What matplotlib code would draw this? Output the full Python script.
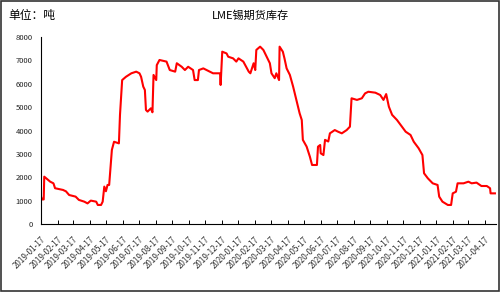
import matplotlib
matplotlib.use('Agg')
import matplotlib.pyplot as plt
import pandas as pd

plt.rcParams['font.family'] = ['Noto Sans CJK SC', 'DejaVu Sans']

# LME锡期货库存 (吨), 读图估算
dates = [
    '2019-01-17', '2019-01-19', '2019-01-22', '2019-01-23', '2019-02-03', '2019-02-09', '2019-02-12',
    '2019-02-27', '2019-03-01', '2019-03-04', '2019-03-10', '2019-03-22', '2019-03-28', '2019-04-07',
    '2019-04-13', '2019-04-19', '2019-04-29', '2019-05-02', '2019-05-08', '2019-05-11', '2019-05-14',
    '2019-05-17', '2019-05-20', '2019-05-23', '2019-05-26', '2019-05-28', '2019-06-01', '2019-06-10',
    '2019-06-12', '2019-06-16', '2019-06-23', '2019-07-03', '2019-07-12', '2019-07-18', '2019-07-21',
    '2019-07-25', '2019-07-28', '2019-07-30', '2019-08-02', '2019-08-08', '2019-08-11', '2019-08-13',
    '2019-08-18', '2019-08-19', '2019-08-24', '2019-09-06', '2019-09-12', '2019-09-22', '2019-09-25',
    '2019-10-04', '2019-10-10', '2019-10-16', '2019-10-25', '2019-10-28', '2019-11-03', '2019-11-05',
    '2019-11-13', '2019-11-19', '2019-11-25', '2019-12-01', '2019-12-14', '2019-12-15', '2019-12-18',
    '2019-12-26', '2019-12-29', '2020-01-07', '2020-01-13', '2020-01-17', '2020-01-26', '2020-02-05',
    '2020-02-08', '2020-02-14', '2020-02-17', '2020-02-19', '2020-02-26', '2020-03-03', '2020-03-09',
    '2020-03-15', '2020-03-18', '2020-03-24', '2020-03-27', '2020-04-01', '2020-04-02', '2020-04-08',
    '2020-04-11', '2020-04-15', '2020-04-21', '2020-04-27', '2020-05-03', '2020-05-09', '2020-05-13',
    '2020-05-15', '2020-05-22', '2020-05-28', '2020-06-01', '2020-06-10', '2020-06-12', '2020-06-16',
    '2020-06-17', '2020-06-22', '2020-06-25', '2020-07-01', '2020-07-04', '2020-07-13', '2020-07-19',
    '2020-07-26', '2020-08-04', '2020-08-10', '2020-08-13', '2020-08-23', '2020-09-01', '2020-09-07',
    '2020-09-13', '2020-09-26', '2020-10-05', '2020-10-11', '2020-10-16', '2020-10-21', '2020-10-27',
    '2020-11-05', '2020-11-14', '2020-11-21', '2020-11-30', '2020-12-06', '2020-12-15', '2020-12-22',
    '2020-12-25', '2021-01-01', '2021-01-10', '2021-01-19', '2021-01-22', '2021-01-28', '2021-02-07',
    '2021-02-13', '2021-02-16', '2021-02-22', '2021-02-25', '2021-03-08', '2021-03-17', '2021-03-23',
    '2021-04-01', '2021-04-10', '2021-04-20', '2021-04-26', '2021-04-27', '2021-05-05',
]
stocks = [
    1170, 1050, 1050, 2025, 1810, 1740, 1530,
    1455, 1430, 1400, 1240, 1170, 1030, 955,
    880, 1000, 955, 813, 813, 955, 1600,
    1400, 1670, 1670, 2600, 3170, 3520, 3450,
    4670, 6160, 6300, 6450, 6520, 6450, 6300,
    5880, 5735, 4880, 4810, 4950, 4780, 6380,
    6160, 6800, 7020, 6950, 6590, 6520, 6880,
    6730, 6590, 6730, 6590, 6160, 6160, 6590,
    6660, 6590, 6520, 6450, 6450, 5950, 7375,
    7300, 7160, 7090, 6950, 7090, 6950, 6520,
    6450, 6880, 6590, 7450, 7590, 7450, 7160,
    6880, 6450, 6240, 6450, 6160, 7590, 7375,
    7090, 6660, 6380, 5880, 5310, 4740, 4450,
    3600, 3310, 2880, 2525, 2525, 3310, 3380,
    3025, 2950, 3600, 3530, 3880, 4020, 3950,
    3880, 4020, 4165, 5380, 5310, 5380, 5590,
    5660, 5620, 5520, 5310, 5560, 5020, 4670,
    4450, 4165, 3950, 3810, 3520, 3240, 2950,
    2170, 1955, 1740, 1670, 1170, 955, 813,
    813, 1310, 1380, 1740, 1740, 1810, 1740,
    1770, 1625, 1625, 1530, 1310, 1310,
]
tick_dates = pd.date_range('2019-01-01', '2021-04-01', freq='MS') + pd.Timedelta(days=16)

df = pd.DataFrame({'date': pd.to_datetime(dates), 'stock': stocks})

fig = plt.figure(figsize=(5, 2.92), dpi=100)
ax = fig.add_axes([0.082, 0.233, 0.910, 0.640])

ax.plot(df['date'], df['stock'], color='#FF0000', linewidth=1.5)

ax.set_ylim(0, 8000)
ax.set_yticks(range(0, 8001, 1000))
ax.set_xlim(pd.Timestamp('2019-01-17'), pd.Timestamp('2021-05-07'))
ax.set_xticks(tick_dates)
ax.set_xticklabels([d.strftime('%Y-%m-%d') for d in tick_dates], rotation=45,
                   ha='right', rotation_mode='anchor', fontsize=5.8, color='#333333')
ax.tick_params(axis='x', direction='in', length=3, width=0.7, pad=8)
ax.tick_params(axis='y', length=0, labelsize=5.5, pad=6, labelcolor='#222222')

for s in ['top', 'right']:
    ax.spines[s].set_visible(False)
ax.spines['left'].set_linewidth(0.8)
ax.spines['bottom'].set_linewidth(0.8)

fig.text(0.5, 0.948, 'LME锡期货库存', ha='center', va='center', fontsize=8)
fig.text(0.016, 0.948, '单位：吨', ha='left', va='center', fontsize=8.5)

# 外框
fig.patches.append(plt.Rectangle((0.002, 0.003), 0.995, 0.993, transform=fig.transFigure,
                                 fill=False, edgecolor='#333333', linewidth=1.2))

fig.savefig('out.png', dpi=100)
